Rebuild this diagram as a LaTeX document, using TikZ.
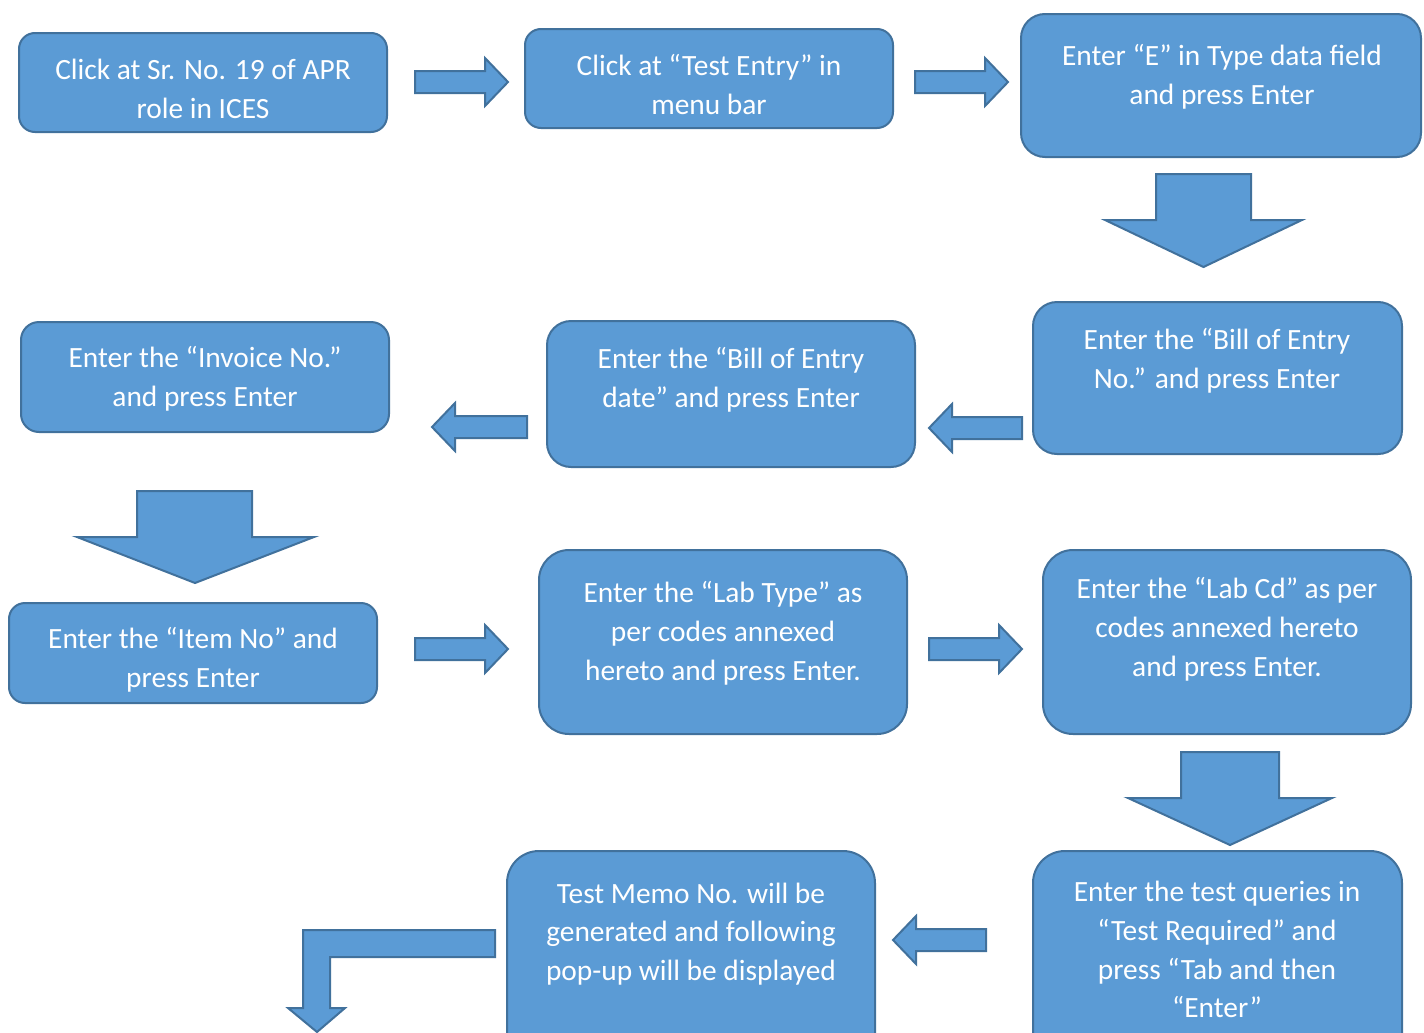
\documentclass[tikz,border=0pt]{standalone}
\usepackage{fontspec}
\setmainfont{Carlito}
\usetikzlibrary{fit}
\definecolor{boxfill}{HTML}{5B9BD5}
\definecolor{boxline}{HTML}{41719C}
\newcommand\rarr[3]{% x-start x-tip ymid
  \draw[barrow] (#1,#3-11) -- (#2-23,#3-11) -- (#2-23,#3-24) -- (#2,#3) -- (#2-23,#3+24) -- (#2-23,#3+11) -- (#1,#3+11) -- cycle;}
\newcommand\larr[3]{% x-start x-tip ymid
  \draw[barrow] (#1,#3-11) -- (#2+23,#3-11) -- (#2+23,#3-24) -- (#2,#3) -- (#2+23,#3+24) -- (#2+23,#3+11) -- (#1,#3+11) -- cycle;}
\newcommand\darr[8]{% shaftL shaftR top headbase headL headR tip xtip
  \draw[barrow] (#1,#3) -- (#2,#3) -- (#2,#4) -- (#6,#4) -- (#8,#7) -- (#5,#4) -- (#1,#4) -- cycle;}
\begin{document}
\begin{tikzpicture}[x=0.5pt,y=-0.5pt,
  box/.style={draw=boxline, fill=boxfill, line width=1pt, inner sep=0pt, rounded corners=#1},
  box/.default=9pt,
  txt/.style={text=white, align=center, font=\fontsize{14.7pt}{19.4pt}\selectfont, inner sep=0pt},
  barrow/.style={draw=boxline, fill=boxfill, line width=1pt, line join=miter}]
\clip (0,0) rectangle (1424,1033);
\fill[white] (0,0) rectangle (1424,1033);

% boxes
\node[box=8pt,  fit={(19,33) (387,132)}]   (A) {};
\node[box=8pt,  fit={(525,29) (893,128)}]  (B) {};
\node[box=12pt, fit={(1021,14) (1421,157)}] (C) {};
\node[box=12pt, fit={(1033,302) (1402,454)}] (D) {};
\node[box=12pt, fit={(547,321) (915,467)}] (E) {};
\node[box=9pt,  fit={(21,322) (389,432)}]  (F) {};
\node[box=8pt,  fit={(9,603) (377,703)}]   (G) {};
\node[box=15pt, fit={(539,550) (907,734)}] (H) {};
\node[box=15pt, fit={(1043,550) (1411,734)}] (I) {};
\node[box=16pt, fit={(1033,851) (1402,1120)}] (J) {};
\node[box=16pt, fit={(507,851) (875,1120)}] (K) {};

% texts
\node[txt] (tA) at (203,88.5) {Click at Sr. No. 19 of APR\\role in ICES};
\node[txt] (tB) at (709,84.5) {Click at “Test Entry” in\\menu bar};
\node[txt] (tC) at (1222,77) {Enter “E” in Type data field\\and press Enter};
\node[txt] (tD) at (1217,360.5) {Enter the “Bill of Entry\\No.” and press Enter};
\node[txt] (tE) at (731,379.5) {Enter the “Bill of Entry\\date” and press Enter};
\node[txt] (tF) at (205,379) {Enter the “Invoice No.”\\and press Enter};
\node[txt] (tG) at (193,659.5) {Enter the “Item No” and\\press Enter};
\node[txt] (tH) at (723,633.5) {Enter the “Lab Type” as\\per codes annexed\\hereto and press Enter.};
\node[txt] (tI) at (1227,629.5) {Enter the “Lab Cd” as per\\codes annexed hereto\\and press Enter.};
\node[txt] (tJ) at (1217,949.5) {Enter the test queries in\\“Test Required” and\\press “Tab and then\\“Enter”};
\node[txt] (tK) at (691,934) {Test Memo No. will be\\generated and following\\pop-up will be displayed};

% block arrows
\rarr{415}{508}{82}
\rarr{915}{1008}{82}
\darr{1156}{1251}{174}{220}{1105}{1302}{267}{1203.5}
\larr{1022}{929}{428}
\larr{527}{432}{427}
\darr{137}{252}{491}{537}{77}{314}{583}{195}
\rarr{415}{508}{649}
\rarr{929}{1022}{649}
\darr{1181}{1279}{752}{798}{1128}{1332}{845}{1230}
\larr{986}{893}{940}
\draw[barrow] (495,930) -- (303,930) -- (303,1008) -- (288,1008) -- (317,1032) -- (345,1008) -- (330,1008) -- (330,957) -- (495,957) -- cycle;
\end{tikzpicture}
\end{document}
